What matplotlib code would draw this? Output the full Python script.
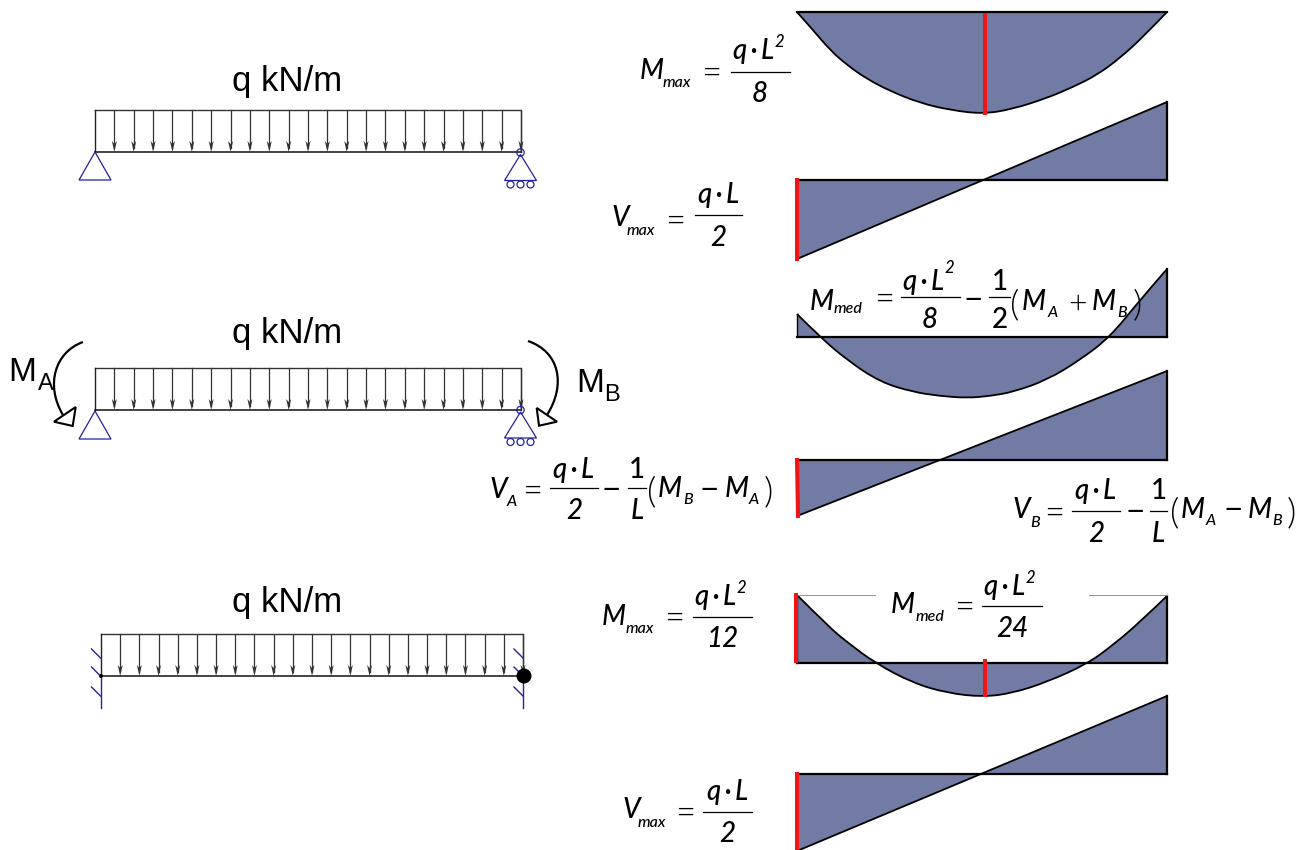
#!/usr/bin/python3
import matplotlib
matplotlib.use("Agg")
import matplotlib.pyplot as plt
from matplotlib.patches import Circle, PathPatch, Polygon
from matplotlib.path import Path

FILL = "#717ba3"
RED = "#f01414"
BLUE = "#2222a0"
THIN = "\u2009"
QL = "q" + THIN + "·" + THIN + "L"

# moment and shear diagrams (pixels)
m1_x = [797, 813, 830, 847, 867, 890, 920, 950, 983, 1013, 1047, 1073, 1097, 1120, 1143, 1167]
m1_y = [12, 30, 50, 65, 79, 91, 103, 110, 114, 109, 98, 87, 75, 58, 37, 12]
m2_x = [797, 820, 847, 880, 913, 940, 967, 990, 1013, 1047, 1080, 1110, 1140, 1167]
m2_y = [314, 337, 360, 382, 392, 396, 398, 396, 392, 380, 360, 337, 300, 269]
m3_x = [797, 830, 847, 875, 913, 947, 983, 1013, 1047, 1087, 1113, 1140, 1167]
m3_y = [595, 628, 642, 663, 683, 693, 697, 693, 682, 664, 645, 622, 596]
m_base = [12, 337, 663]
v1_x = [797, 1167]
v1_y = [259, 102]
v1_base = 180
v2_y = [516, 371]
v2_base = 460
v3_y = [851, 696]
v3_base = 774

beam_left = [95, 95, 101]
beam_right = [521, 521, 523]
beam_top = [110, 368, 634]
beam_bottom = [152, 410, 676]
load_y = [91, 343, 612]
n_arrows = 22

load_label = "q kN/m"


def smooth_path(xs, ys):
    # quadratic pieces through the midpoints, the read points are the controls
    pts = list(zip(xs, ys))
    verts = [pts[0]]
    codes = [Path.MOVETO]
    if len(pts) == 2:
        return verts + [pts[1]], codes + [Path.LINETO]
    for i in range(1, len(pts) - 1):
        if i == len(pts) - 2:
            end = pts[i + 1]
        else:
            end = ((pts[i][0] + pts[i + 1][0]) / 2, (pts[i][1] + pts[i + 1][1]) / 2)
        verts += [pts[i], end]
        codes += [Path.CURVE3, Path.CURVE3]
    return verts, codes


def draw_diagram(ax, xs, ys, base):
    verts, codes = smooth_path(xs, ys)
    fill_verts = verts + [(xs[-1], base), (xs[0], base), verts[0]]
    fill_codes = codes + [Path.LINETO, Path.LINETO, Path.LINETO]
    ax.add_patch(PathPatch(Path(fill_verts, fill_codes), fc=FILL, ec="none", zorder=1))
    ax.add_patch(PathPatch(Path(verts, codes), fill=False, ec="black", lw=1.3, zorder=2))
    ax.plot([xs[0], xs[-1]], [base, base], color="black", lw=1.6, zorder=2)
    ax.plot([xs[-1], xs[-1]], [ys[-1], base], color="black", lw=1.6, zorder=2)
    ax.plot([xs[0], xs[0]], [ys[0], base], color="black", lw=1.0, zorder=2)


def draw_beam(ax, i):
    x0, x1 = beam_left[i], beam_right[i]
    top, bot = beam_top[i], beam_bottom[i]
    ax.plot([x0, x1, x1], [top, top, bot], color="#333333", lw=1.0, zorder=3)
    ax.plot([x0, x0], [top, bot], color="#222222", lw=1.0, zorder=3)
    ax.plot([x0, x1], [bot, bot], color="#111111", lw=1.1, zorder=3)
    step = (x1 - x0) / n_arrows
    for k in range(1, n_arrows + 1):
        x = x0 + k * step
        ax.plot([x, x], [top, bot - 4], color="#333333", lw=0.9, zorder=3)
        ax.fill([x - 2.5, x, x + 2.5, x], [bot - 11, bot, bot - 11, bot - 8],
                color="#333333", lw=0, zorder=3)


def pin(ax, x, y):
    ax.add_patch(Polygon([(x, y), (x - 16, y + 28), (x + 16, y + 28)], closed=True,
                         fill=False, ec=BLUE, lw=0.9, zorder=4))


def roller(ax, x, y):
    ax.add_patch(Circle((x, y), 3.7, fill=False, ec=BLUE, lw=0.9, zorder=4))
    ax.add_patch(Polygon([(x, y + 2), (x - 16, y + 28), (x + 16, y + 28)], closed=True,
                         fill=False, ec=BLUE, lw=0.9, zorder=4))
    for dx in (-10, 0, 10):
        ax.add_patch(Circle((x + dx, y + 32), 3.5, fill=False, ec=BLUE, lw=0.9, zorder=4))


def fixed(ax, x, y):
    ax.plot([x, x], [y, y + 32], color=BLUE, lw=1.0, zorder=4)
    for dy in (-18, 0, 20):
        ax.plot([x - 9, x], [y + dy - 9, y + dy], color=BLUE, lw=1.0, zorder=4)


def moment_arrow(ax, verts, head):
    codes = [Path.MOVETO, Path.CURVE4, Path.CURVE4, Path.CURVE4]
    ax.add_patch(PathPatch(Path(verts, codes), fill=False, ec="black", lw=1.6, zorder=4))
    ax.add_patch(Polygon(head, closed=True, fc="white", ec="black", lw=1.5, zorder=5))


def t(ax, x, y, s, size=20, style="italic", ha="left", weight=500):
    ax.text(x, y, s, fontsize=size, style=style, ha=ha, va="baseline", weight=weight,
            family="Lato", color="black", zorder=6)


def sym(ax, main, x, y, sub, sub_x, sub_y, eq_x, eq_y):
    t(ax, x, y, main)
    t(ax, sub_x, sub_y, sub, size=11.5)
    t(ax, eq_x - 3, eq_y + 12, "=", size=25, style="normal", weight=300)


def minus(ax, x, yc):
    t(ax, x - 3, yc + 11.5, "−", size=24, style="normal", weight=400)


def frac(ax, x0, x1, y, num, den, num_y, den_y, num_style="italic", den_style="italic"):
    ax.plot([x0, x1], [y, y], color="black", lw=0.9, zorder=6)
    xc = (x0 + x1) / 2
    t(ax, xc, num_y, num, ha="center", style=num_style)
    t(ax, xc, den_y, den, ha="center", style=den_style)


def ql2(ax, x0, x1, y, num_y, sup_y, den, den_x, den_y):
    ax.plot([x0, x1], [y, y], color="black", lw=0.9, zorder=6)
    t(ax, x0 + 2, num_y, QL)
    t(ax, x0 + 44, sup_y, "2", size=12)
    t(ax, den_x, den_y, den, ha="center")


def paren_sum(ax, x, y, a, op, b, s=1.0):
    t(ax, x - 3, y + 5, "(", size=26, style="normal", weight=300)
    t(ax, x + 8 * s, y, "M")
    t(ax, x + 33 * s, y + 7, a, size=11.5)
    if op == "+":
        t(ax, x + 53 * s, y + 3, op, size=23, style="normal", weight=300)
    else:
        minus(ax, x + 53 * s, y - 9)
    t(ax, x + 75 * s, y, "M")
    t(ax, x + 99 * s, y + 7, b, size=11.5)
    t(ax, x + 114 * s, y + 5, ")", size=26, style="normal", weight=300)


fig = plt.figure(figsize=(13.05, 8.5), dpi=100)
ax = fig.add_axes([0, 0, 1, 1])
ax.set_xlim(0, 1305)
ax.set_ylim(850, 0)
ax.axis("off")

# diagrams
draw_diagram(ax, m1_x, m1_y, m_base[0])
draw_diagram(ax, v1_x, v1_y, v1_base)
draw_diagram(ax, m2_x, m2_y, m_base[1])
draw_diagram(ax, v1_x, v2_y, v2_base)
draw_diagram(ax, m3_x, m3_y, m_base[2])
draw_diagram(ax, v1_x, v3_y, v3_base)

# thin lines left at the top of the fixed end moment diagram
ax.plot([797, 875], [595, 595], color="#8a90a8", lw=0.7, zorder=2)
ax.plot([1089, 1167], [595, 595], color="#8a90a8", lw=0.7, zorder=2)

# red bars marking the maximum values
ax.plot([985, 985], [15, 113], color=RED, lw=2.9, zorder=5)
ax.plot([797, 797], [180, 259], color=RED, lw=2.9, zorder=5)
ax.plot([797, 798], [460, 516], color=RED, lw=2.9, zorder=5)
ax.plot([796, 796], [595, 661], color=RED, lw=2.9, zorder=5)
ax.plot([985, 985], [661, 695], color=RED, lw=2.9, zorder=5)
ax.plot([797, 797], [774, 850], color=RED, lw=2.9, zorder=5)

# beams
for i in range(3):
    draw_beam(ax, i)
    ax.text(287.5, load_y[i], load_label, fontsize=25, ha="center", va="baseline",
            family="Liberation Sans", zorder=6)

pin(ax, 95, 152)
roller(ax, 520.5, 152.5)
pin(ax, 95, 411)
roller(ax, 520.5, 410)
fixed(ax, 100.5, 676)
fixed(ax, 523, 676)
ax.add_patch(Circle((524, 676), 7.5, fc="black", ec="none", zorder=7))
ax.add_patch(Circle((101, 676), 2, fc="black", ec="none", zorder=7))

moment_arrow(ax, [(83, 342), (55, 352), (45, 385), (63, 415)],
             [(75.7, 407), (54, 421.7), (72.7, 426)])
moment_arrow(ax, [(528, 341), (560, 352), (566, 385), (547, 415)],
             [(536.7, 408), (557, 421.7), (539, 425.7)])

ax.text(8, 381, "M", fontsize=24, family="Liberation Sans", zorder=6)
ax.text(38, 390, "A", fontsize=17, family="Liberation Sans", zorder=6)
ax.text(576, 392, "M", fontsize=24, family="Liberation Sans", zorder=6)
ax.text(604, 401, "B", fontsize=17, family="Liberation Sans", zorder=6)

# formulas
sym(ax, "M", 640, 79, "max", 663, 87, 704, 72)
ql2(ax, 731, 790, 72, 59, 47, "8", 760, 102)

sym(ax, "V", 612, 226, "max", 627, 235, 668, 220)
frac(ax, 695, 742, 215, QL, "2", 203, 246)

sym(ax, "M", 810, 310, "med", 834, 313, 877, 298)
ql2(ax, 901, 960, 297, 290, 273, "8", 930, 328)
minus(ax, 967, 298)
frac(ax, 989, 1010, 297, "1", "2", 290, 328, num_style="normal", den_style="normal")
paren_sum(ax, 1013, 310, "A", "+", "B", s=1.05)

sym(ax, "V", 490, 498, "A", 507, 506, 525, 490)
frac(ax, 550, 598, 488, QL, "2", 478, 519)
minus(ax, 605, 488)
frac(ax, 628, 646, 488, "1", "L", 478, 519, num_style="normal")
paren_sum(ax, 650, 497, "B", "−", "A")

sym(ax, "V", 1013, 518, "B", 1030, 527, 1047, 512)
frac(ax, 1072, 1120, 511, QL, "2", 499, 542)
minus(ax, 1128, 511)
frac(ax, 1150, 1167, 511, "1", "L", 499, 542, num_style="normal")
paren_sum(ax, 1173, 518, "A", "−", "B")

sym(ax, "M", 602, 625, "max", 626, 633, 667, 617)
ql2(ax, 693, 752, 617, 605, 593, "12", 722, 647)

sym(ax, "M", 891, 613, "med", 916, 621, 957, 606)
ql2(ax, 982, 1042, 606, 595, 583, "24", 1012, 637)

sym(ax, "V", 623, 818, "max", 638, 827, 678, 812)
frac(ax, 703, 752, 812, QL, "2", 800, 842)

fig.savefig("out.png", dpi=100)
plt.close(fig)
